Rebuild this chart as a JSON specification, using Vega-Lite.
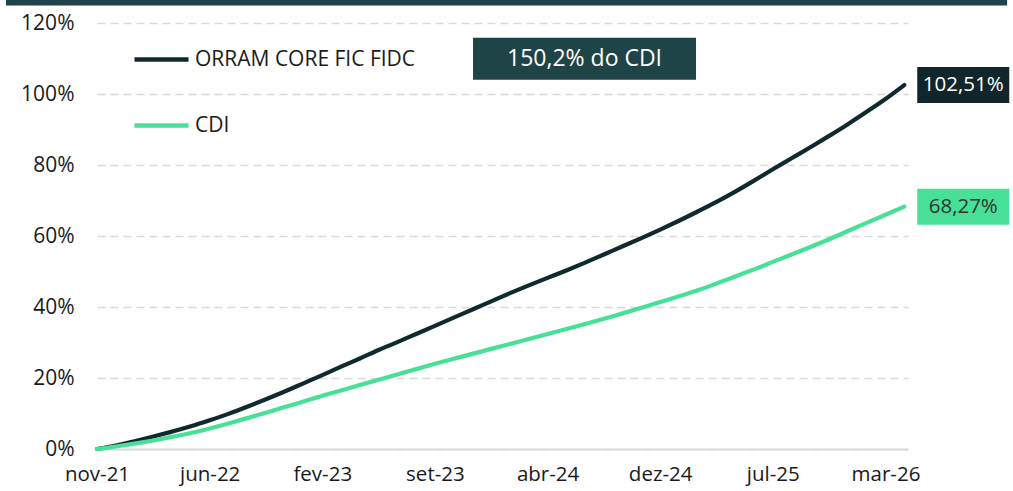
{
  "$schema": "https://vega.github.io/schema/vega-lite/v6.json",
  "width": 811,
  "height": 426,
  "padding": {"left": 97, "top": 23, "right": 105, "bottom": 42},
  "autosize": {"type": "none"},
  "background": "#ffffff",
  "config": {
    "view": {"stroke": null},
    "font": "Open Sans"
  },
  "datasets": {
    "serie": [
      {"i": 0, "s": "ORRAM CORE FIC FIDC", "v": 0},
      {"i": 1, "s": "ORRAM CORE FIC FIDC", "v": 1.0},
      {"i": 2, "s": "ORRAM CORE FIC FIDC", "v": 2.2},
      {"i": 3, "s": "ORRAM CORE FIC FIDC", "v": 3.5},
      {"i": 4, "s": "ORRAM CORE FIC FIDC", "v": 4.9},
      {"i": 5, "s": "ORRAM CORE FIC FIDC", "v": 6.4},
      {"i": 6, "s": "ORRAM CORE FIC FIDC", "v": 8.1},
      {"i": 7, "s": "ORRAM CORE FIC FIDC", "v": 9.9},
      {"i": 8, "s": "ORRAM CORE FIC FIDC", "v": 11.9},
      {"i": 9, "s": "ORRAM CORE FIC FIDC", "v": 14.0},
      {"i": 10, "s": "ORRAM CORE FIC FIDC", "v": 16.2},
      {"i": 11, "s": "ORRAM CORE FIC FIDC", "v": 18.5},
      {"i": 12, "s": "ORRAM CORE FIC FIDC", "v": 20.8},
      {"i": 13, "s": "ORRAM CORE FIC FIDC", "v": 23.2},
      {"i": 14, "s": "ORRAM CORE FIC FIDC", "v": 25.5},
      {"i": 15, "s": "ORRAM CORE FIC FIDC", "v": 27.9},
      {"i": 16, "s": "ORRAM CORE FIC FIDC", "v": 30.1},
      {"i": 17, "s": "ORRAM CORE FIC FIDC", "v": 32.4},
      {"i": 18, "s": "ORRAM CORE FIC FIDC", "v": 34.7},
      {"i": 19, "s": "ORRAM CORE FIC FIDC", "v": 37.0},
      {"i": 20, "s": "ORRAM CORE FIC FIDC", "v": 39.3},
      {"i": 21, "s": "ORRAM CORE FIC FIDC", "v": 41.6},
      {"i": 22, "s": "ORRAM CORE FIC FIDC", "v": 43.9},
      {"i": 23, "s": "ORRAM CORE FIC FIDC", "v": 46.1},
      {"i": 24, "s": "ORRAM CORE FIC FIDC", "v": 48.2},
      {"i": 25, "s": "ORRAM CORE FIC FIDC", "v": 50.3},
      {"i": 26, "s": "ORRAM CORE FIC FIDC", "v": 52.5},
      {"i": 27, "s": "ORRAM CORE FIC FIDC", "v": 54.8},
      {"i": 28, "s": "ORRAM CORE FIC FIDC", "v": 57.1},
      {"i": 29, "s": "ORRAM CORE FIC FIDC", "v": 59.4},
      {"i": 30, "s": "ORRAM CORE FIC FIDC", "v": 61.8},
      {"i": 31, "s": "ORRAM CORE FIC FIDC", "v": 64.3},
      {"i": 32, "s": "ORRAM CORE FIC FIDC", "v": 66.9},
      {"i": 33, "s": "ORRAM CORE FIC FIDC", "v": 69.6},
      {"i": 34, "s": "ORRAM CORE FIC FIDC", "v": 72.5},
      {"i": 35, "s": "ORRAM CORE FIC FIDC", "v": 75.6},
      {"i": 36, "s": "ORRAM CORE FIC FIDC", "v": 78.8},
      {"i": 37, "s": "ORRAM CORE FIC FIDC", "v": 81.9},
      {"i": 38, "s": "ORRAM CORE FIC FIDC", "v": 85.0},
      {"i": 39, "s": "ORRAM CORE FIC FIDC", "v": 88.2},
      {"i": 40, "s": "ORRAM CORE FIC FIDC", "v": 91.5},
      {"i": 41, "s": "ORRAM CORE FIC FIDC", "v": 95.0},
      {"i": 42, "s": "ORRAM CORE FIC FIDC", "v": 98.6},
      {"i": 43, "s": "ORRAM CORE FIC FIDC", "v": 102.51, "rotulo": "102,51%"},
      {"i": 0, "s": "CDI", "v": 0},
      {"i": 1, "s": "CDI", "v": 0.7},
      {"i": 2, "s": "CDI", "v": 1.5},
      {"i": 3, "s": "CDI", "v": 2.4},
      {"i": 4, "s": "CDI", "v": 3.4},
      {"i": 5, "s": "CDI", "v": 4.5},
      {"i": 6, "s": "CDI", "v": 5.8},
      {"i": 7, "s": "CDI", "v": 7.2},
      {"i": 8, "s": "CDI", "v": 8.7},
      {"i": 9, "s": "CDI", "v": 10.2},
      {"i": 10, "s": "CDI", "v": 11.8},
      {"i": 11, "s": "CDI", "v": 13.4},
      {"i": 12, "s": "CDI", "v": 15.0},
      {"i": 13, "s": "CDI", "v": 16.5},
      {"i": 14, "s": "CDI", "v": 18.0},
      {"i": 15, "s": "CDI", "v": 19.5},
      {"i": 16, "s": "CDI", "v": 21.0},
      {"i": 17, "s": "CDI", "v": 22.5},
      {"i": 18, "s": "CDI", "v": 24.0},
      {"i": 19, "s": "CDI", "v": 25.4},
      {"i": 20, "s": "CDI", "v": 26.8},
      {"i": 21, "s": "CDI", "v": 28.2},
      {"i": 22, "s": "CDI", "v": 29.6},
      {"i": 23, "s": "CDI", "v": 31.0},
      {"i": 24, "s": "CDI", "v": 32.4},
      {"i": 25, "s": "CDI", "v": 33.8},
      {"i": 26, "s": "CDI", "v": 35.2},
      {"i": 27, "s": "CDI", "v": 36.7},
      {"i": 28, "s": "CDI", "v": 38.2},
      {"i": 29, "s": "CDI", "v": 39.8},
      {"i": 30, "s": "CDI", "v": 41.4},
      {"i": 31, "s": "CDI", "v": 43.0},
      {"i": 32, "s": "CDI", "v": 44.7},
      {"i": 33, "s": "CDI", "v": 46.6},
      {"i": 34, "s": "CDI", "v": 48.6},
      {"i": 35, "s": "CDI", "v": 50.6},
      {"i": 36, "s": "CDI", "v": 52.7},
      {"i": 37, "s": "CDI", "v": 54.8},
      {"i": 38, "s": "CDI", "v": 56.9},
      {"i": 39, "s": "CDI", "v": 59.1},
      {"i": 40, "s": "CDI", "v": 61.4},
      {"i": 41, "s": "CDI", "v": 63.7},
      {"i": 42, "s": "CDI", "v": 66.0},
      {"i": 43, "s": "CDI", "v": 68.27, "rotulo": "68,27%"}
    ],
    "uma": [{"nota": "150,2% do CDI"}]
  },
  "layer": [
    {
      "data": {"name": "uma"},
      "mark": {"type": "rect", "color": "#1f4147"},
      "encoding": {
        "x": {"datum": -4.85, "type": "quantitative", "scale": {"domain": [0, 43.2], "nice": false, "zero": false}},
        "x2": {"datum": 48.48},
        "y": {"datum": 126.5, "type": "quantitative", "scale": {"domain": [0, 120], "nice": false}},
        "y2": {"datum": 124.95}
      }
    },
    {
      "data": {"name": "serie"},
      "mark": {"type": "line", "strokeWidth": 4.2, "strokeCap": "round", "interpolate": "monotone"},
      "encoding": {
        "x": {
          "field": "i", "type": "quantitative",
          "scale": {"domain": [0, 43.2], "nice": false, "zero": false},
          "axis": {
            "values": [0, 6, 12, 18, 24, 30, 36, 42],
            "labelExpr": "['nov-21','jun-22','fev-23','set-23','abr-24','dez-24','jul-25','mar-26'][round(datum.value/6)]",
            "title": null, "grid": false, "ticks": false,
            "domainColor": "#d9d9d9", "domainWidth": 2,
            "labelFont": "Open Sans", "labelFontSize": 20.5, "labelColor": "#1a1a1a",
            "labelPadding": 15, "labelFlush": false
          }
        },
        "y": {
          "field": "v", "type": "quantitative",
          "scale": {"domain": [0, 120], "nice": false},
          "axis": {
            "values": [0, 20, 40, 60, 80, 100, 120],
            "labelExpr": "datum.value + '%'",
            "title": null, "domain": false, "ticks": false,
            "grid": true, "gridColor": "#d9d9d9", "gridDash": [8, 5], "gridWidth": 1.5,
            "labelFont": "Open Sans", "labelFontSize": 21, "labelColor": "#1a1a1a",
            "labelPadding": 23
          }
        },
        "color": {
          "field": "s", "type": "nominal",
          "scale": {"domain": ["ORRAM CORE FIC FIDC", "CDI"], "range": ["#0f2a2e", "#47e096"]},
          "legend": {
            "orient": "none", "legendX": 35, "legendY": 7, "title": null,
            "symbolType": "stroke", "symbolSize": 2916, "symbolStrokeWidth": 4.5,
            "labelFont": "Open Sans", "labelFontSize": 21, "labelColor": "#1a1a1a",
            "labelLimit": 0, "labelOffset": 4, "rowPadding": 26, "direction": "vertical"
          }
        }
      }
    },
    {
      "data": {"name": "serie"},
      "transform": [{"filter": "datum.rotulo != null"}],
      "mark": {"type": "rect", "xOffset": 13, "x2Offset": 105, "yOffset": -18, "y2Offset": 18},
      "encoding": {
        "x": {"field": "i", "type": "quantitative"},
        "x2": {"field": "i"},
        "y": {"field": "v", "type": "quantitative"},
        "y2": {"field": "v"},
        "fill": {"condition": {"test": "datum.s === 'CDI'", "value": "#47e096"}, "value": "#11262b"}
      }
    },
    {
      "data": {"name": "serie"},
      "transform": [{"filter": "datum.rotulo != null"}],
      "mark": {"type": "text", "xOffset": 59, "align": "center", "baseline": "middle", "font": "Open Sans", "fontSize": 20.5, "fontWeight": "normal"},
      "encoding": {
        "x": {"field": "i", "type": "quantitative"},
        "y": {"field": "v", "type": "quantitative"},
        "text": {"field": "rotulo"},
        "color": {"condition": {"test": "datum.s === 'CDI'", "value": "#333333"}, "value": "#ffffff"}
      }
    },
    {
      "data": {"name": "uma"},
      "mark": {"type": "rect", "color": "#1f4448", "xOffset": -111.5, "x2Offset": 111.5, "yOffset": -21, "y2Offset": 21},
      "encoding": {
        "x": {"datum": 25.97, "type": "quantitative"},
        "x2": {"datum": 25.97},
        "y": {"datum": 109.9, "type": "quantitative"},
        "y2": {"datum": 109.9}
      }
    },
    {
      "data": {"name": "uma"},
      "mark": {"type": "text", "align": "center", "baseline": "middle", "font": "Open Sans", "fontSize": 23, "fontWeight": "normal", "color": "#ffffff"},
      "encoding": {
        "x": {"datum": 25.97, "type": "quantitative"},
        "y": {"datum": 109.9, "type": "quantitative"},
        "text": {"field": "nota"}
      }
    }
  ]
}
